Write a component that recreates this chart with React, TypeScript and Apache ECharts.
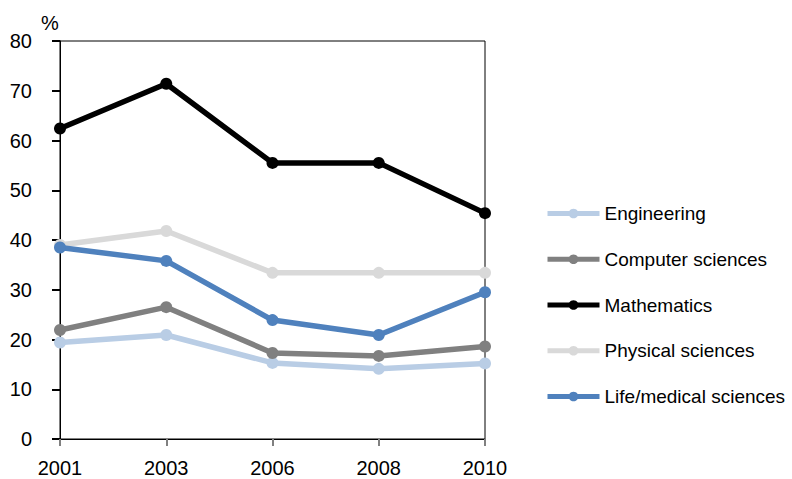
import React, { useEffect, useRef } from "react";
import * as echarts from "echarts";

const years = ["2001", "2003", "2006", "2008", "2010"];
const engineering = [19.4, 20.9, 15.3, 14.1, 15.2];
const computerSciences = [21.9, 26.5, 17.3, 16.7, 18.6];
const mathematics = [62.4, 71.4, 55.5, 55.5, 45.4];
const physicalSciences = [39.0, 41.8, 33.4, 33.4, 33.4];
const lifeMedical = [38.5, 35.8, 23.9, 20.9, 29.5];

const seriesNames = ["Engineering", "Computer sciences", "Mathematics", "Physical sciences", "Life/medical sciences"];
const seriesData = [engineering, computerSciences, mathematics, physicalSciences, lifeMedical];
const seriesColors = ["#b9cde5", "#808080", "#000000", "#d9d9d9", "#4f81bd"];

const FONT = "'Liberation Sans', Arial, sans-serif";

export default function App() {
  const ref = useRef<HTMLDivElement>(null);
  useEffect(() => {
    if (!ref.current) return;
    const chart = echarts.init(ref.current, null, { renderer: "svg" });
    chart.setOption({
      animation: false,
      backgroundColor: "#ffffff",
      textStyle: { fontFamily: FONT },
      grid: {
        left: 60,
        right: 307,
        top: 41,
        bottom: 40,
        show: true,
        borderColor: "#000000",
        borderWidth: 1,
        backgroundColor: "transparent",
      },
      graphic: [
        {
          type: "text",
          left: 41,
          top: 13,
          style: { text: "%", fontSize: 20, fontFamily: FONT, fill: "#000" },
        },
      ],
      legend: {
        orient: "vertical",
        left: 540,
        top: 199,
        itemWidth: 52,
        itemHeight: 12,
        itemGap: 26.75,
        lineStyle: { width: 5 },
        textStyle: { fontSize: 19, fontFamily: FONT, color: "#000" },
        data: seriesNames,
      },
      xAxis: {
        type: "category",
        data: years,
        boundaryGap: false,
        axisLine: { lineStyle: { color: "#000", width: 1 } },
        axisTick: { show: true, length: 7, lineStyle: { color: "#808080", width: 2 } },
        axisLabel: { fontSize: 20, color: "#000", margin: 19, fontFamily: FONT },
        splitLine: { show: false },
      },
      yAxis: {
        type: "value",
        min: 0,
        max: 80,
        interval: 10,
        axisLine: { show: true, lineStyle: { color: "#000", width: 1 } },
        axisTick: { show: true, length: 8, lineStyle: { color: "#000", width: 2 } },
        axisLabel: { fontSize: 20, color: "#000", margin: 28, fontFamily: FONT },
        splitLine: { show: false },
      },
      series: seriesNames.map((name, i) => ({
        name,
        type: "line",
        data: seriesData[i],
        symbol: "circle",
        symbolSize: 12,
        lineStyle: { color: seriesColors[i], width: 5.5 },
        itemStyle: { color: seriesColors[i] },
        z: 2 + i,
      })),
    });
    return () => chart.dispose();
  }, []);
  return (
    <div
      ref={ref}
      style={{ position: "fixed", left: 0, top: 0, width: 792, height: 479 }}
    />
  );
}
